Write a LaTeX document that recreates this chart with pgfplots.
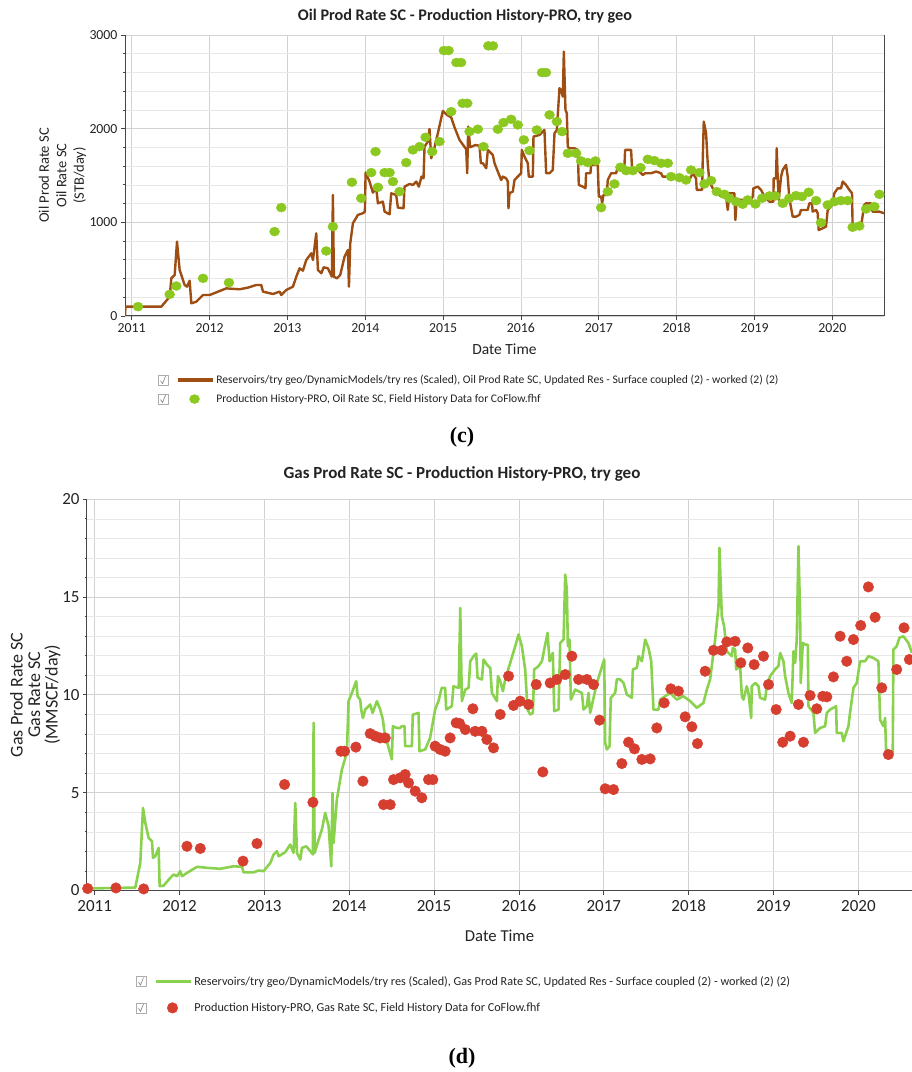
\documentclass[border=0pt]{standalone}
\usepackage{fontspec}
\setmainfont{Carlito}
\newfontfamily\capfont{Liberation Serif}
\usepackage{pgfplots}
\pgfplotsset{compat=1.18}

\definecolor{oilsim}{RGB}{158,78,18}
\definecolor{oilhist}{RGB}{140,201,32}
\definecolor{gassim}{RGB}{138,210,78}
\definecolor{gashist}{RGB}{214,62,48}
\definecolor{gridmaj}{RGB}{210,210,210}
\definecolor{gridmin}{RGB}{232,232,232}
\definecolor{axisgray}{RGB}{70,70,70}
\definecolor{txt}{RGB}{35,35,35}

\tikzset{chk/.style={draw=gray!65, line width=0.6pt, fill=white}}

\pgfplotsset{
  chart/.style={
    scale only axis,
    anchor=south west,
    axis x line*=bottom,
    tick align=outside,
    xtick={2011,...,2020},
    minor x tick num=4,
    minor y tick num=4,
    grid=both,
    major grid style={gridmaj, line width=0.8pt},
    minor grid style={gridmin, line width=0.6pt},
    axis line style={axisgray, line width=1pt},
    tick style={axisgray, line width=0.8pt},
    major tick length=4pt,
    minor tick length=2.5pt,
    /pgf/number format/assume math mode=true,
    /pgf/number format/1000 sep={},
    ticklabel style={txt},
    legend cell align=left,
  },
  chkline/.style={legend image code/.code={
      \draw[chk] (-19pt,-5pt) rectangle (-9pt,5pt);
      \draw[gray, line width=0.6pt] (-17pt,-0.5pt) -- (-15pt,-3.5pt) -- (-12pt,4pt);
      \draw[##1, line width=3.6pt] (0pt,0pt) -- (35pt,0pt);
  }},
  chkdot/.style={legend image code/.code={
      \draw[chk] (-19pt,-5pt) rectangle (-9pt,5pt);
      \draw[gray, line width=0.6pt] (-17pt,-0.5pt) -- (-15pt,-3.5pt) -- (-12pt,4pt);
      \draw[##1, mark repeat=1] plot coordinates {(17pt,0pt)};
      \path (35pt,0pt);
  }},
}

\begin{document}
\begin{tikzpicture}
\path[use as bounding box] (0pt,0pt) rectangle (912pt,1072pt);

% ---------------- (c) oil rate ----------------
\node[font=\bfseries\fontsize{16.2}{18}\selectfont, txt] at (465pt,1056pt)
  {Oil Prod Rate SC - Production History-PRO, try geo};
\begin{axis}[chart,
  at={(125pt,756pt)}, width=759pt, height=281pt,
  axis y line*=box, ytick pos=left,
  xmin=2010.914, xmax=2020.662, ymin=0, ymax=3000,
  ytick={0,1000,2000,3000},
  tick label style={font=\fontsize{13.8}{15}\selectfont},
  xlabel={Date Time},
  xlabel style={at={(axis description cs:0.5,0)}, anchor=center, yshift=-33pt,
    font=\fontsize{15.5}{17}\selectfont, txt},
  ylabel={Oil Prod Rate SC\\Oil Rate SC\\(STB/day)},
  ylabel style={at={(axis description cs:-0.0823,0.5)}, anchor=center, align=center,
    font=\fontsize{14.5}{17.5}\selectfont, txt},
  legend style={at={(axis description cs:0.0435,-0.203)}, anchor=north west,
    draw=none, fill=none, inner sep=0pt, row sep=5pt,
    font=\fontsize{11.6}{13}\selectfont, text=txt},
]
\addplot[oilsim, line width=2.4pt, line join=round, chkline] coordinates {
(2010.914,0) (2010.92,100) (2011.381,100) (2011.488,206) (2011.509,402)
(2011.552,438) (2011.582,794) (2011.616,491) (2011.680,331) (2011.710,313)
(2011.744,377) (2011.766,135) (2011.830,153) (2011.916,224) (2012.001,224)
(2012.215,295) (2012.386,285) (2012.493,303) (2012.600,331) (2012.664,331)
(2012.686,260) (2012.814,235) (2012.900,260) (2012.921,224) (2012.985,278)
(2013.071,313) (2013.114,420) (2013.156,509) (2013.199,484) (2013.242,598)
(2013.306,669) (2013.328,598) (2013.370,883) (2013.392,491) (2013.435,456)
(2013.465,520) (2013.520,509) (2013.571,420) (2013.584,1292) (2013.597,420)
(2013.636,402) (2013.678,438) (2013.734,634) (2013.777,705) (2013.790,313)
(2013.807,776) (2013.841,990) (2013.905,1079) (2013.970,1097) (2013.995,1114)
(2014.004,1531) (2014.055,1435) (2014.098,1317) (2014.141,1364) (2014.162,1203)
(2014.226,1221) (2014.248,1114) (2014.312,1086) (2014.333,1310) (2014.397,1292)
(2014.419,1157) (2014.491,1150) (2014.504,1381) (2014.569,1410) (2014.611,1399)
(2014.654,1435) (2014.688,1381) (2014.722,1488) (2014.748,1470) (2014.761,1808)
(2014.804,1862) (2014.825,1997) (2014.847,1684) (2014.889,1801) (2014.932,1951)
(2014.996,2189) (2015.048,2147) (2015.103,2122) (2015.146,2015) (2015.210,1880)
(2015.296,1780) (2015.309,1524) (2015.322,2022) (2015.347,1801) (2015.416,1826)
(2015.467,1816) (2015.484,1631) (2015.510,1631) (2015.553,1577) (2015.574,1773)
(2015.638,1719) (2015.660,1631) (2015.702,1542) (2015.745,1452) (2015.767,1488)
(2015.809,1470) (2015.831,1435) (2015.839,1150) (2015.852,1310) (2015.895,1328)
(2015.916,1452) (2015.959,1488) (2016.002,1524) (2016.010,1773) (2016.045,1702)
(2016.087,1631) (2016.100,1488) (2016.152,1488) (2016.160,1915) (2016.237,1933)
(2016.301,1986) (2016.323,1524) (2016.366,1524) (2016.408,1559) (2016.430,1951)
(2016.460,1986) (2016.494,2432) (2016.515,2414) (2016.537,2342) (2016.550,2823)
(2016.571,2200) (2016.588,2165) (2016.601,1808) (2016.622,1791) (2016.687,1791)
(2016.729,1773) (2016.742,1399) (2016.794,1381) (2016.828,1364) (2016.836,1524)
(2016.892,1524) (2016.900,1613) (2016.986,1613) (2016.999,1275) (2017.029,1275)
(2017.042,1203) (2017.059,1292) (2017.102,1292) (2017.114,1452) (2017.157,1524)
(2017.221,1524) (2017.243,1595) (2017.328,1595) (2017.337,1773) (2017.414,1773)
(2017.427,1559) (2017.500,1559) (2017.564,1506) (2017.594,1524) (2017.671,1524)
(2017.735,1542) (2017.799,1524) (2017.820,1488) (2017.949,1488) (2018.034,1470)
(2018.163,1452) (2018.205,1524) (2018.248,1470) (2018.257,1346) (2018.325,1346)
(2018.334,1666) (2018.347,2076) (2018.377,1951) (2018.398,1631) (2018.419,1435)
(2018.462,1364) (2018.505,1328) (2018.569,1275) (2018.612,1310) (2018.634,1275)
(2018.655,1132) (2018.676,1310) (2018.740,1310) (2018.753,1025) (2018.770,1239)
(2018.847,1239) (2018.933,1203) (2018.976,1275) (2018.984,1363) (2019.040,1381)
(2019.083,1346) (2019.126,1275) (2019.190,1221) (2019.241,1221) (2019.245,1470)
(2019.275,1470) (2019.284,1791) (2019.297,1470) (2019.310,1239) (2019.340,1488)
(2019.361,1559) (2019.404,1613) (2019.425,1488) (2019.446,1257) (2019.489,1061)
(2019.532,1061) (2019.575,1079) (2019.596,1132) (2019.682,1132) (2019.703,1203)
(2019.737,1203) (2019.746,1114) (2019.789,1132) (2019.810,1097) (2019.823,918)
(2019.874,936) (2019.917,954) (2019.939,1132) (2019.981,1168) (2020.003,1203)
(2020.024,1310) (2020.067,1363) (2020.110,1363) (2020.131,1435) (2020.174,1399)
(2020.217,1346) (2020.251,1310) (2020.259,954) (2020.302,936) (2020.366,954)
(2020.409,1186) (2020.431,1203) (2020.495,1203) (2020.516,1114) (2020.602,1114)
(2020.662,1097)
};
\addlegendentry{Reservoirs/try geo/DynamicModels/try res (Scaled), Oil Prod Rate SC, Updated Res - Surface coupled (2) - worked (2) (2)}
\addplot[only marks, mark=*, mark size=5pt, oilhist,
  mark options={fill=oilhist, draw=none, yscale=0.9}, chkdot] coordinates {
(2011.081,100) (2011.488,231) (2011.573,320) (2011.916,402) (2012.249,356)
(2012.835,901) (2012.921,1157) (2013.499,694) (2013.584,954) (2013.828,1428)
(2013.948,1257) (2014.076,1531) (2014.132,1755) (2014.162,1374) (2014.248,1531)
(2014.312,1531) (2014.355,1435) (2014.440,1328) (2014.526,1638) (2014.611,1773)
(2014.697,1808) (2014.774,1908) (2014.859,1755) (2014.953,1862) (2015.010,2834)
(2015.070,2834) (2015.103,2182) (2015.170,2706) (2015.230,2706) (2015.250,2271)
(2015.310,2271) (2015.339,1969) (2015.446,1994) (2015.518,1808) (2015.580,2884)
(2015.640,2884) (2015.702,1994) (2015.775,2065) (2015.873,2100) (2015.959,2040)
(2016.036,1880) (2016.109,1766) (2016.203,1986) (2016.270,2599) (2016.320,2599)
(2016.366,2147) (2016.460,2076) (2016.528,1969) (2016.601,1737) (2016.708,1737)
(2016.772,1655) (2016.858,1638) (2016.956,1655) (2017.029,1157) (2017.114,1328)
(2017.200,1410) (2017.277,1588) (2017.350,1552) (2017.435,1552) (2017.534,1584)
(2017.628,1673) (2017.713,1659) (2017.799,1631) (2017.885,1631) (2017.927,1488)
(2018.034,1477) (2018.120,1452) (2018.184,1559) (2018.291,1531) (2018.355,1410)
(2018.441,1445) (2018.514,1328) (2018.612,1299) (2018.676,1257) (2018.762,1221)
(2018.847,1193) (2018.911,1239) (2019.010,1196) (2019.096,1257) (2019.190,1282)
(2019.267,1282) (2019.361,1203) (2019.446,1257) (2019.532,1285) (2019.609,1275)
(2019.695,1321) (2019.789,1232) (2019.853,996) (2019.939,1186) (2020.024,1221)
(2020.110,1232) (2020.196,1232) (2020.259,947) (2020.345,961) (2020.431,1143)
(2020.538,1168) (2020.602,1299)
};
\addlegendentry{Production History-PRO, Oil Rate SC, Field History Data for CoFlow.fhf}
\end{axis}
\node[font=\capfont\bfseries\fontsize{22}{24}\selectfont] at (462pt,635pt) {(c)};

% ---------------- (d) gas rate ----------------
\node[font=\bfseries\fontsize{17}{19}\selectfont, txt] at (462pt,598pt)
  {Gas Prod Rate SC - Production History-PRO, try geo};
\begin{axis}[chart,
  at={(87pt,181.5pt)}, width=825pt, height=391.2pt,
  axis y line*=left,
  xmin=2010.91, xmax=2020.631, ymin=0, ymax=20,
  ytick={0,5,10,15,20},
  tick label style={font=\fontsize{17}{19}\selectfont},
  xticklabel style={yshift=-2pt},
  xlabel={Date Time},
  xlabel style={at={(axis description cs:0.5,0)}, anchor=center, yshift=-45.5pt,
    font=\fontsize{16.7}{18}\selectfont, txt},
  ylabel={Gas Prod Rate SC\\Gas Rate SC\\(MMSCF/day)},
  ylabel style={at={(axis description cs:-0.0627,0.5)}, anchor=center, align=center,
    font=\fontsize{18}{17.5}\selectfont, txt},
  legend style={at={(axis description cs:0.0594,-0.214)}, anchor=north west,
    draw=none, fill=none, inner sep=0pt, row sep=12pt,
    font=\fontsize{12.2}{14}\selectfont, text=txt},
]
\addplot[gassim, line width=2.6pt, line join=round, chkline] coordinates {
(2010.91,0.1) (2011.479,0.15) (2011.538,1.41) (2011.570,4.22) (2011.597,3.46)
(2011.636,2.69) (2011.676,2.52) (2011.688,1.67) (2011.715,1.75) (2011.754,2.18)
(2011.766,0.22) (2011.813,0.25) (2011.892,0.65) (2011.931,0.82) (2011.970,0.73)
(2012.009,0.99) (2012.029,0.73) (2012.088,0.90) (2012.206,1.21) (2012.323,1.16)
(2012.480,1.11) (2012.637,1.24) (2012.735,1.21) (2012.755,0.93) (2012.873,0.93)
(2012.932,1.02) (2012.991,0.99) (2013.070,1.41) (2013.109,1.84) (2013.148,2.01)
(2013.168,1.75) (2013.246,1.96) (2013.305,2.35) (2013.344,1.92) (2013.364,4.48)
(2013.384,1.92) (2013.423,1.58) (2013.443,2.18) (2013.494,2.26) (2013.541,2.01)
(2013.572,1.84) (2013.580,8.57) (2013.592,1.92) (2013.639,2.60) (2013.678,3.12)
(2013.717,3.97) (2013.757,3.29) (2013.788,1.24) (2013.803,4.99) (2013.815,2.43)
(2013.854,4.65) (2013.913,6.18) (2013.972,7.04) (2013.992,9.68) (2014.031,10.10)
(2014.082,10.70) (2014.098,9.93) (2014.129,9.76) (2014.141,9.25) (2014.161,8.82)
(2014.188,9.25) (2014.247,9.51) (2014.275,9.08) (2014.326,9.68) (2014.365,9.25)
(2014.396,8.74) (2014.416,8.06) (2014.443,7.63) (2014.502,6.70) (2014.514,8.40)
(2014.561,8.31) (2014.600,8.31) (2014.620,8.40) (2014.651,8.40) (2014.659,7.38)
(2014.738,7.38) (2014.749,8.99) (2014.816,9.08) (2014.828,7.12) (2014.894,7.21)
(2014.953,7.80) (2015.012,9.25) (2015.051,9.68) (2015.090,10.36) (2015.130,10.36)
(2015.142,9.25) (2015.208,9.42) (2015.228,10.44) (2015.290,10.36) (2015.308,14.45)
(2015.327,9.68) (2015.367,10.27) (2015.406,10.36) (2015.426,11.72) (2015.465,11.98)
(2015.496,12.11) (2015.512,10.87) (2015.563,10.79) (2015.583,11.81) (2015.622,11.55)
(2015.661,11.38) (2015.681,10.10) (2015.740,9.68) (2015.752,10.96) (2015.779,10.70)
(2015.810,10.19) (2015.838,10.79) (2015.897,11.64) (2015.956,12.49) (2015.995,13.09)
(2016.034,12.49) (2016.073,11.30) (2016.101,9.25) (2016.132,9.00) (2016.164,9.08)
(2016.179,11.30) (2016.230,11.47) (2016.270,11.72) (2016.301,12.40) (2016.337,13.17)
(2016.360,11.72) (2016.399,12.15) (2016.415,9.17) (2016.466,9.25) (2016.486,12.66)
(2016.525,12.83) (2016.545,16.15) (2016.564,15.39) (2016.576,12.49) (2016.596,12.83)
(2016.611,9.76) (2016.662,10.27) (2016.741,10.10) (2016.761,9.25) (2016.800,9.42)
(2016.819,10.10) (2016.839,9.08) (2016.918,10.61) (2017.004,11.81) (2017.016,7.55)
(2017.035,7.21) (2017.067,7.38) (2017.082,9.85) (2017.133,10.10) (2017.153,10.79)
(2017.192,10.79) (2017.232,10.61) (2017.271,10.02) (2017.330,9.85) (2017.342,11.30)
(2017.389,11.38) (2017.408,11.98) (2017.448,11.72) (2017.487,12.83) (2017.526,12.40)
(2017.558,11.72) (2017.585,9.25) (2017.644,9.25) (2017.664,9.76) (2017.722,9.93)
(2017.781,10.10) (2017.860,9.76) (2017.938,9.93) (2018.017,9.68) (2018.095,9.34)
(2018.174,9.59) (2018.213,10.27) (2018.252,10.79) (2018.311,12.83) (2018.351,14.53)
(2018.362,17.52) (2018.390,14.02) (2018.417,13.51) (2018.449,12.23) (2018.508,11.98)
(2018.519,12.40) (2018.547,12.32) (2018.559,11.30) (2018.606,11.47) (2018.626,9.93)
(2018.645,9.76) (2018.684,10.44) (2018.704,10.10) (2018.736,8.82) (2018.743,10.44)
(2018.783,10.61) (2018.822,10.44) (2018.841,9.85) (2018.900,9.76) (2018.920,10.44)
(2018.959,10.96) (2019.018,11.30) (2019.057,11.47) (2019.077,12.15) (2019.116,11.72)
(2019.136,10.96) (2019.175,10.10) (2019.214,9.59) (2019.234,12.23) (2019.254,11.64)
(2019.273,12.83) (2019.293,17.60) (2019.313,14.02) (2019.320,10.61) (2019.344,12.66)
(2019.372,12.57) (2019.403,12.57) (2019.411,9.42) (2019.470,9.08) (2019.489,8.06)
(2019.548,8.31) (2019.607,8.40) (2019.627,9.08) (2019.666,9.25) (2019.737,9.42)
(2019.744,8.06) (2019.803,8.06) (2019.823,7.63) (2019.882,8.40) (2019.901,9.08)
(2019.941,10.36) (2019.980,10.61) (2020.019,11.72) (2020.078,11.72) (2020.117,11.98)
(2020.176,11.89) (2020.235,11.72) (2020.255,8.74) (2020.294,8.40) (2020.314,8.82)
(2020.325,7.21) (2020.404,7.04) (2020.412,12.32) (2020.451,12.49) (2020.482,12.92)
(2020.529,13.00) (2020.588,12.66) (2020.631,12.15)
};
\addlegendentry{Reservoirs/try geo/DynamicModels/try res (Scaled), Gas Prod Rate SC, Updated Res - Surface coupled (2) - worked (2) (2)}
\addplot[only marks, mark=*, mark size=5.3pt, gashist,
  mark options={fill=gashist, draw=none}, chkdot] coordinates {
(2010.918,0.1) (2011.251,0.13) (2011.578,0.08) (2012.088,2.26) (2012.245,2.15)
(2012.748,1.50) (2012.913,2.40) (2013.238,5.42) (2013.572,4.51) (2013.902,7.12)
(2013.945,7.12) (2014.078,7.33) (2014.161,5.59) (2014.247,8.02) (2014.306,7.89)
(2014.365,7.80) (2014.424,7.80) (2014.404,4.39) (2014.483,4.39) (2014.522,5.67)
(2014.600,5.76) (2014.659,5.93) (2014.699,5.50) (2014.777,5.08) (2014.855,4.74)
(2014.934,5.67) (2014.985,5.67) (2015.012,7.38) (2015.071,7.21) (2015.130,7.12)
(2015.189,7.80) (2015.260,8.57) (2015.300,8.54) (2015.367,8.23) (2015.457,9.29)
(2015.484,8.14) (2015.563,8.14) (2015.622,7.72) (2015.700,7.29) (2015.779,9.00)
(2015.877,10.96) (2015.936,9.46) (2016.014,9.68) (2016.113,9.51) (2016.203,10.53)
(2016.281,6.06) (2016.368,10.61) (2016.446,10.79) (2016.545,11.04) (2016.623,11.98)
(2016.702,10.79) (2016.800,10.79) (2016.879,10.53) (2016.949,8.71) (2017.016,5.20)
(2017.114,5.16) (2017.212,6.49) (2017.291,7.58) (2017.361,7.24) (2017.448,6.70)
(2017.546,6.73) (2017.624,8.31) (2017.711,9.59) (2017.789,10.31) (2017.879,10.19)
(2017.958,8.88) (2018.037,8.37) (2018.103,7.51) (2018.194,11.21) (2018.292,12.28)
(2018.390,12.28) (2018.449,12.71) (2018.547,12.74) (2018.614,11.64) (2018.696,12.40)
(2018.771,11.55) (2018.881,11.98) (2018.940,10.53) (2019.030,9.25) (2019.108,7.58)
(2019.195,7.89) (2019.293,9.51) (2019.352,7.58) (2019.430,9.97) (2019.509,9.29)
(2019.580,9.93) (2019.627,9.90) (2019.705,10.92) (2019.784,13.00) (2019.862,11.72)
(2019.941,12.83) (2020.027,13.55) (2020.117,15.52) (2020.196,13.97) (2020.275,10.36)
(2020.353,6.95) (2020.451,11.30) (2020.537,13.43) (2020.600,11.81)
};
\addlegendentry{Production History-PRO, Gas Rate SC, Field History Data for CoFlow.fhf}
\end{axis}
\node[font=\capfont\bfseries\fontsize{22}{24}\selectfont] at (462pt,14pt) {(d)};
\end{tikzpicture}
\end{document}
